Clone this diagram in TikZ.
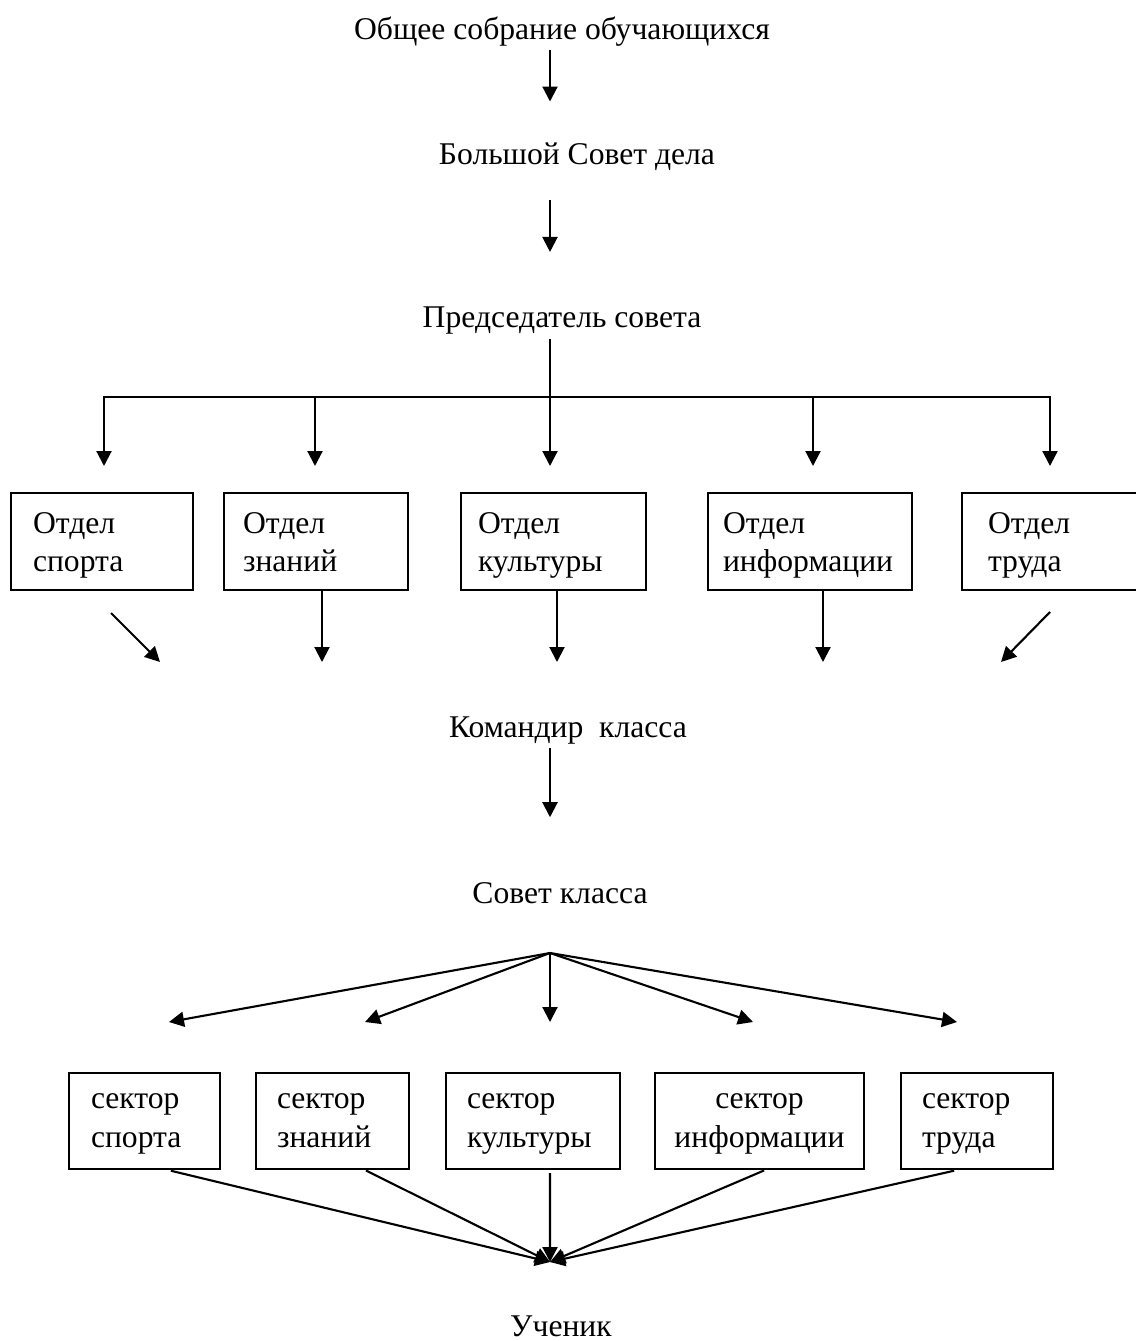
\documentclass[tikz,border=0pt]{standalone}
\usepackage{fontspec}
\setmainfont{Liberation Serif}
\usetikzlibrary{arrows.meta}

\begin{document}
\begin{tikzpicture}[x=0.02cm,y=-0.02cm]
% Styles
\tikzstyle{fleche}=[-{Triangle[length=3mm,width=3mm]},line width=1.2pt]
\tikzstyle{trait}=[line width=1.2pt]
\tikzstyle{titre}=[inner sep=0pt,anchor=base,font=\fontsize{18}{22}\selectfont]
\tikzstyle{boite}=[draw,line width=1.2pt,inner xsep=0pt,align=left,font=\fontsize{18}{22}\selectfont]
% Dimensions
\def\HautOtdel{1.94cm}
\def\HautSektor{1.92cm}
\def\NiveauOtdel{541.5}
\def\NiveauSektor{1121}
\def\Axe{550}
% Textes des cadres
\def\Otdel#1{\rule{0pt}{19pt}Отдел\\#1\strut}
\def\Sektor#1{\rule{0pt}{14.5pt}сектор\\#1\strut}
% Cadre
\useasboundingbox (0,0) rectangle (1135,1341);
% Noeuds
\node[titre] (OSO) at (562,40) {Общее собрание обучающихся};
\node[titre] (BSD) at (577,165) {Большой Совет дела};
\node[titre] (PS) at (562,327) {Председатель совета};
\node[boite,minimum width=3.64cm,text width=2.76cm,minimum height=\HautOtdel] (Osport) at (102,\NiveauOtdel) {\Otdel{спорта}};
\node[boite,minimum width=3.68cm,text width=2.92cm,minimum height=\HautOtdel] (Oznan) at (316,\NiveauOtdel) {\Otdel{знаний}};
\node[boite,minimum width=3.70cm,text width=3.02cm,minimum height=\HautOtdel] (Okult) at (553.5,\NiveauOtdel) {\Otdel{культуры}};
\node[boite,minimum width=4.08cm,text width=3.48cm,minimum height=\HautOtdel] (Oinfo) at (810,\NiveauOtdel) {\Otdel{информации}};
\node[boite,minimum width=3.56cm,text width=2.52cm,minimum height=\HautOtdel] (Otrud) at (1051,\NiveauOtdel) {\Otdel{труда}};
\node[titre] (KK) at (568,737) {Командир\ \ класса};
\node[titre] (SK) at (560,903) {Совет класса};
\node[boite,minimum width=3.02cm,text width=2.14cm,minimum height=\HautSektor] (Ssport) at (144.5,\NiveauSektor) {\Sektor{спорта}};
\node[boite,minimum width=3.06cm,text width=2.22cm,minimum height=\HautSektor] (Sznan) at (332.5,\NiveauSektor) {\Sektor{знаний}};
\node[boite,minimum width=3.48cm,text width=2.64cm,minimum height=\HautSektor] (Skult) at (533,\NiveauSektor) {\Sektor{культуры}};
\node[boite,minimum width=4.18cm,text width=3.78cm,minimum height=\HautSektor,align=center] (Sinfo) at (759.5,\NiveauSektor) {\Sektor{информации}};
\node[boite,minimum width=3.04cm,text width=2.20cm,minimum height=\HautSektor] (Strud) at (977,\NiveauSektor) {\Sektor{труда}};
\node[titre] (UC) at (561,1336) {Ученик};
% Points
\coordinate (J) at (\Axe,397);
\coordinate (Jg) at (104,397);
\coordinate (Jd) at (1050,397);
\coordinate (Ta) at (104,466);
\coordinate (Tb) at (315,466);
\coordinate (Tc) at (\Axe,466);
\coordinate (Td) at (813,466);
\coordinate (Te) at (1050,466);
\coordinate (Ga) at (111,613);
\coordinate (Gb) at (160,662);
\coordinate (Kb) at (322,662);
\coordinate (Kc) at (557,662);
\coordinate (Kd) at (823,662);
\coordinate (Ea) at (1050,612);
\coordinate (Eb) at (1001,662);
\coordinate (F) at (\Axe,953);
\coordinate (Fa) at (169,1022);
\coordinate (Fb) at (365,1022);
\coordinate (Fc) at (\Axe,1022);
\coordinate (Fd) at (753,1022);
\coordinate (Fe) at (957,1022);
\coordinate (U) at (\Axe,1262);
% Arcs
\draw[fleche,shorten <=0.05cm,shorten >=0.83cm] (OSO.south -| J) -- (BSD.north -| J);
\draw[fleche,shorten <=0.57cm,shorten >=1.08cm] (BSD.south -| J) -- (PS.north -| J);
\draw[trait,shorten <=0.1cm] (PS.south -| J) -- (J);
\draw[trait,line cap=rect] (Jg) -- (Jd);
\draw[fleche] (Jg) -- (Ta);
\draw[fleche] (Tb |- J) -- (Tb);
\draw[fleche] (J) -- (Tc);
\draw[fleche] (Td |- J) -- (Td);
\draw[fleche] (Jd) -- (Te);
\draw[fleche] (Ga) -- (Gb);
\draw[fleche] (Oznan.south -| Kb) -- (Kb);
\draw[fleche] (Okult.south -| Kc) -- (Kc);
\draw[fleche] (Oinfo.south -| Kd) -- (Kd);
\draw[fleche] (Ea) -- (Eb);
\draw[fleche,shorten <=0.08cm,shorten >=1.29cm] (KK.south -| J) -- (SK.north -| J);
\draw[fleche] (F) -- (Fa);
\draw[fleche] (F) -- (Fb);
\draw[fleche] (F) -- (Fc);
\draw[fleche] (F) -- (Fd);
\draw[fleche] (F) -- (Fe);
\draw[fleche,shorten <=0.06cm] ([xshift=0.47cm]Ssport.south) -- (U);
\draw[fleche,shorten <=0.02cm] ([xshift=0.65cm]Sznan.south) -- (U);
\draw[fleche,shorten <=0.06cm] ([xshift=0.34cm]Skult.south) -- (U);
\draw[fleche,shorten <=0.02cm] ([xshift=0.11cm]Sinfo.south) -- (U);
\draw[fleche,shorten <=0.06cm] ([xshift=-0.4cm]Strud.south) -- (U);
\end{tikzpicture}
\end{document}
